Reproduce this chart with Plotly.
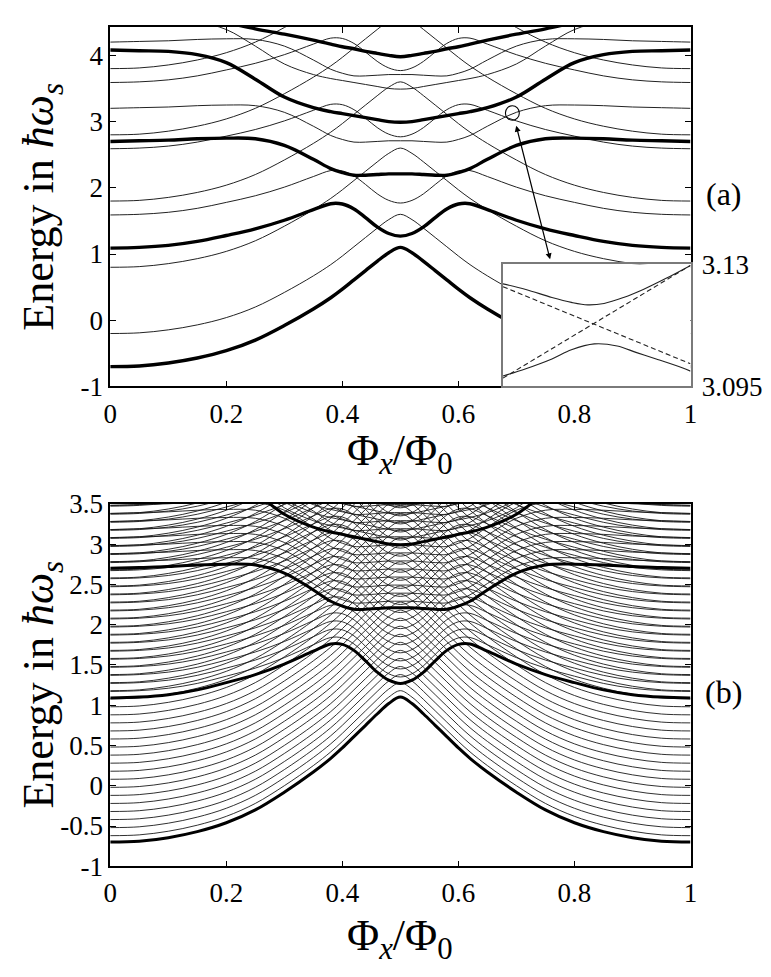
import plotly.graph_objects as go

# ---------------- data ----------------
# flux grid for half the period (spectrum is symmetric about 0.5)
flux_half = [0.0, 0.05, 0.10, 0.15, 0.20, 0.25, 0.30, 0.35, 0.38, 0.40, 0.42, 0.44, 0.46, 0.48, 0.50]

# thick curves (levels) in units of hbar*omega_s
E0_half = [-0.70, -0.69, -0.645, -0.57, -0.46, -0.30, -0.08, 0.17, 0.34, 0.47, 0.61, 0.75, 0.89, 1.02, 1.10]
E1_half = [1.09, 1.10, 1.13, 1.19, 1.28, 1.38, 1.51, 1.67, 1.76, 1.755, 1.68, 1.55, 1.41, 1.31, 1.27]
E2_half = [2.70, 2.71, 2.72, 2.74, 2.75, 2.74, 2.64, 2.43, 2.29, 2.23, 2.19, 2.19, 2.20, 2.21, 2.21]
E3_half = [4.08, 4.07, 4.06, 4.01, 3.89, 3.64, 3.37, 3.21, 3.15, 3.12, 3.09, 3.06, 3.03, 3.00, 2.99]
E4_half = [5.30, 5.25, 5.10, 4.85, 4.52, 4.40, 4.32, 4.23, 4.17, 4.13, 4.10, 4.06, 4.03, 4.00, 3.98]

# thin-line energy offsets (oscillator ladder) in panel (a)
offsets_a = [0.5, 1.5, 2.5, 3.5, 4.5]
# ladder in panel (b): first rung and spacing
ladder_first_b = 0.08
ladder_step_b = 0.10
ladder_count_b = 45

# inset (zoom of the avoided crossing near the circle)
inset_frac = [0.0, 0.122, 0.261, 0.365, 0.452, 0.539, 0.643, 0.748, 0.870, 1.0]
inset_upper = [3.1244, 3.1228, 3.1205, 3.1191, 3.1184, 3.1188, 3.1205, 3.1228, 3.1260, 3.1297]
inset_lower_frac = [0.0, 0.122, 0.261, 0.365, 0.487, 0.609, 0.713, 0.817, 0.922, 1.0]
inset_lower = [3.0980, 3.1001, 3.1029, 3.1055, 3.1072, 3.1066, 3.1047, 3.1029, 3.1010, 3.0994]
inset_dash_frac = [0.0, 1.0]
inset_dash_a = [3.1236, 3.1015]
inset_dash_b = [3.0974, 3.1297]
inset_flux_start = 0.69
inset_flux_width = 0.01

x_ticks = [0, 0.2, 0.4, 0.6, 0.8, 1]
x_ticktext = ["0", "0.2", "0.4", "0.6", "0.8", "1"]
ya_ticks = [-1, 0, 1, 2, 3, 4]
ya_ticktext = ["-1", "0", "1", "2", "3", "4"]
yb_ticks = [-1, -0.5, 0, 0.5, 1, 1.5, 2, 2.5, 3, 3.5]
yb_ticktext = ["-1", "-0.5", "0", "0.5", "1", "1.5", "2", "2.5", "3", "3.5"]

# ---------------- build ----------------
def mirror(xs, ys):
    xf = list(xs) + [round(1 - v, 4) for v in reversed(xs[:-1])]
    yf = list(ys) + list(reversed(ys[:-1]))
    return xf, yf

levels = [E0_half, E1_half, E2_half, E3_half, E4_half]
full = [mirror(flux_half, e) for e in levels]

FONT = "Liberation Serif, Times New Roman, serif"
fig = go.Figure()

def thin_trace(offsets, xa, ya, width, color):
    xs, ys = [], []
    for xf, yf in full:
        for o in offsets:
            xs += xf + [None]
            ys += [v + o for v in yf] + [None]
    return go.Scatter(x=xs, y=ys, mode="lines", xaxis=xa, yaxis=ya,
                      line=dict(color=color, width=width, shape="spline", smoothing=1.0),
                      hoverinfo="skip", connectgaps=False)

offsets_b = [ladder_first_b + ladder_step_b * n for n in range(ladder_count_b)]

fig.add_trace(thin_trace(offsets_a, "x", "y", 1.0, "#222222"))
fig.add_trace(thin_trace(offsets_b, "x2", "y2", 0.9, "#1a1a1a"))

for xa, ya, w in (("x", "y", 3.4), ("x2", "y2", 3.0)):
    for xf, yf in full:
        fig.add_trace(go.Scatter(x=xf, y=yf, mode="lines", xaxis=xa, yaxis=ya,
                                 line=dict(color="black", width=w, shape="spline", smoothing=1.0),
                                 hoverinfo="skip"))

def ifx(fr):
    return [inset_flux_start + f * inset_flux_width for f in fr]

fig.add_trace(go.Scatter(x=ifx(inset_dash_frac), y=inset_dash_a, mode="lines", xaxis="x3", yaxis="y3",
                         line=dict(color="#222", width=1.1, dash="5px,3px")))
fig.add_trace(go.Scatter(x=ifx(inset_dash_frac), y=inset_dash_b, mode="lines", xaxis="x3", yaxis="y3",
                         line=dict(color="#222", width=1.1, dash="5px,3px")))
fig.add_trace(go.Scatter(x=ifx(inset_frac), y=inset_upper, mode="lines", xaxis="x3", yaxis="y3",
                         line=dict(color="#222", width=1.1, shape="spline")))
fig.add_trace(go.Scatter(x=ifx(inset_lower_frac), y=inset_lower, mode="lines", xaxis="x3", yaxis="y3",
                         line=dict(color="#222", width=1.1, shape="spline")))

W, H = 771, 977
def px_x(p): return p / W
def px_y(p): return 1 - p / H

common = dict(showgrid=False, zeroline=False, showline=True, linecolor="black", linewidth=1.5,
              ticks="inside", ticklen=6, tickcolor="black", tickwidth=1, mirror="allticks",
              tickfont=dict(family=FONT, size=27, color="black"))

xdom = [px_x(97), px_x(688)]
fig.update_layout(
    width=W, height=H, margin=dict(l=0, r=0, t=0, b=0),
    font=dict(family=FONT, color="black"),
    paper_bgcolor="white", plot_bgcolor="white", showlegend=False,
    xaxis=dict(domain=xdom, anchor="y", range=[0, 1], tickvals=x_ticks, ticktext=x_ticktext,
               ticklabelstandoff=2, **common),
    yaxis=dict(domain=[px_y(375), px_y(4)], anchor="x", range=[-1, 4.43], tickvals=ya_ticks,
               ticktext=ya_ticktext, **common),
    xaxis2=dict(domain=xdom, anchor="y2", range=[0, 1], tickvals=x_ticks, ticktext=x_ticktext,
                ticklabelstandoff=2, **common),
    yaxis2=dict(domain=[px_y(870), px_y(496)], anchor="x2", range=[-1, 3.5], tickvals=yb_ticks,
                ticktext=yb_ticktext, **common),
    xaxis3=dict(domain=[px_x(497), px_x(688)], anchor="y3", range=[inset_flux_start, inset_flux_start + inset_flux_width],
                showgrid=False, zeroline=False, showline=True, mirror=True, linecolor="#7a7a7a",
                linewidth=1.5, ticks="", showticklabels=False),
    yaxis3=dict(domain=[px_y(375), px_y(249)], anchor="x3", side="right", range=[3.095, 3.13],
                tickvals=[3.095, 3.13], ticktext=["3.095", "3.13"], ticks="",
                showgrid=False, zeroline=False, showline=True, mirror=True, linecolor="#7a7a7a",
                linewidth=1.5, ticklabelstandoff=4,
                tickfont=dict(family=FONT, size=27, color="black")),
)

ytitle = "Energy in <i>ħω<sub>s</sub></i>"
xtitle = "Φ<sub><i>x</i></sub>/Φ<sub>0</sub>"
tf = dict(family=FONT, size=44, color="black")
ann = [
    dict(text=ytitle, x=px_x(27), y=px_y(190), xref="paper", yref="paper", textangle=-90,
         showarrow=False, font=tf, xanchor="center", yanchor="middle"),
    dict(text=ytitle, x=px_x(27), y=px_y(683), xref="paper", yref="paper", textangle=-90,
         showarrow=False, font=tf, xanchor="center", yanchor="middle"),
    dict(text=xtitle, x=px_x(392), y=px_y(444), xref="paper", yref="paper",
         showarrow=False, font=tf, xanchor="center", yanchor="middle"),
    dict(text=xtitle, x=px_x(392), y=px_y(945), xref="paper", yref="paper",
         showarrow=False, font=tf, xanchor="center", yanchor="middle"),
    dict(text="(a)", x=px_x(722), y=px_y(176), xref="paper", yref="paper",
         showarrow=False, font=dict(family=FONT, size=32, color="black"), xanchor="center", yanchor="middle"),
    dict(text="(b)", x=px_x(722), y=px_y(690), xref="paper", yref="paper",
         showarrow=False, font=dict(family=FONT, size=32, color="black"), xanchor="center", yanchor="middle"),
    dict(text="", x=0.758, y=0.92, xref="x", yref="y", ax=0.699, ay=2.96, axref="x", ayref="y",
         showarrow=True, arrowhead=2, startarrowhead=2, arrowside="end+start", arrowsize=1,
         startarrowsize=1, arrowwidth=1.2, arrowcolor="black"),
]
fig.update_layout(annotations=ann)
fig.add_shape(type="circle", xref="x", yref="y", x0=0.693 - 0.012, x1=0.693 + 0.012,
              y0=3.13 - 0.11, y1=3.13 + 0.11, line=dict(color="black", width=1.1))

fig.write_html("out.html")
